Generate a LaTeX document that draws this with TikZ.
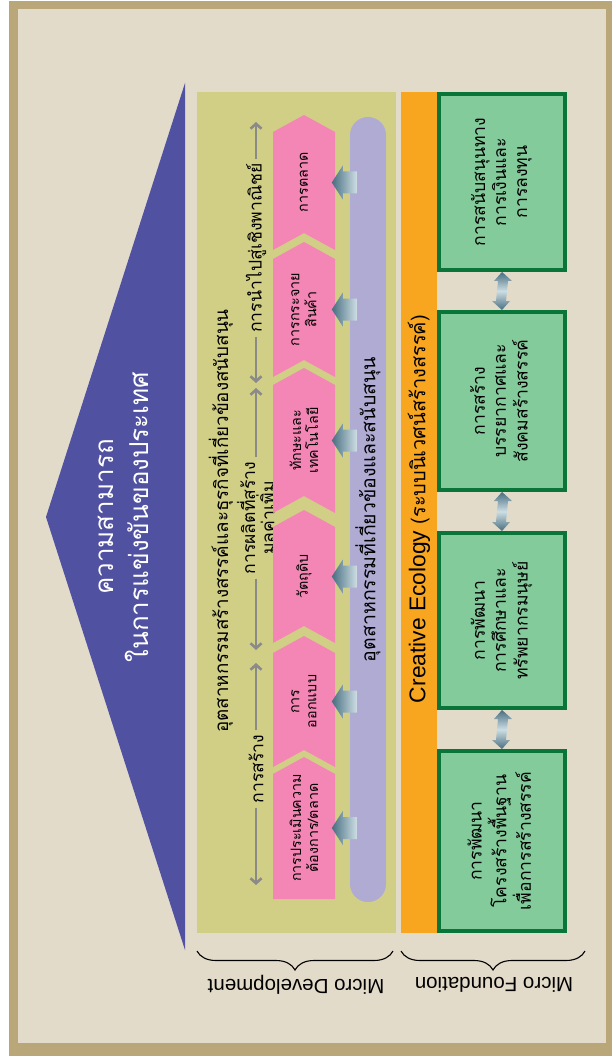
\documentclass[tikz,border=0pt]{standalone}
\usepackage{fontspec}
\setmainfont{Liberation Sans}
\newfontfamily\thaifont[Script=Thai]{Loma}
\usetikzlibrary{arrows.meta,calc,decorations.pathreplacing}

\definecolor{bgbeige}{RGB}{226,219,201}
\definecolor{frametan}{RGB}{185,167,121}
\definecolor{pyramid}{RGB}{81,81,161}
\definecolor{panel}{RGB}{209,207,134}
\definecolor{chevpink}{RGB}{243,134,180}
\definecolor{lavender}{RGB}{175,171,211}
\definecolor{ecoorange}{RGB}{248,166,31}
\definecolor{boxgreen}{RGB}{132,203,155}
\definecolor{boxborder}{RGB}{10,117,56}
\definecolor{flowgray}{RGB}{138,138,138}
\definecolor{arrowdark}{RGB}{72,110,128}
\definecolor{arrowlight}{RGB}{205,222,228}

\newcommand{\upright}[1]{\rotatebox{90}{\begin{tabular}{@{}c@{}}#1\end{tabular}}}

\begin{document}
\begin{tikzpicture}[x=1pt,y=-1pt,
    thaisz/.style 2 args={font=\thaifont\fontsize{#1}{#2}\selectfont},
    upright/.style={rotate=90, align=center, inner sep=0pt},
    flow/.style={flowgray, line width=2.6pt, -{Straight Barb[length=5pt,width=11pt]}, shorten <=4pt},
    greenbox/.style={draw=boxborder, line width=4pt, fill=boxgreen, minimum width=126pt,
        minimum height=176pt, inner sep=0pt, thaisz={17.6}{21}},
    pipe/.style={upright, fill=lavender, rounded corners=18pt, minimum width=785pt,
        minimum height=36pt, thaisz={19.5}{20}},
    feed/.style={left color=arrowdark, right color=arrowlight},
    gapshade/.style={top color=arrowdark, bottom color=arrowdark, middle color=arrowlight}]
    \useasboundingbox (0,0) rectangle (612,1056);

    % Frame
    \fill[white] (0,0) rectangle (612,1056);
    \fill[frametan] (9,1) rectangle (612,1056);
    \fill[bgbeige] (18,9) rectangle (606,1043);

    % Pyramid roof
    \fill[pyramid] (185,83) -- (46,517) -- (185,950) -- cycle;
    \node[upright, text=white, thaisz={26}{35}] (goal) at (123,517)
        {ความสามารถ\\ในการแข่งขันของประเทศ};

    % Micro development panel
    \fill[panel] (197,92) rectangle (396,933);
    \node[upright, thaisz={18.8}{20}] (cluster) at (221,521)
        {อุตสาหกรรมสร้างสรรค์และธุรกิจที่เกี่ยวข้องสนับสนุน};

    % Value chain stages
    \node[upright, thaisz={17.6}{18}] (tComm) at (256,248) {การนำไปสู่เชิงพาณิชย์};
    \node[upright, thaisz={17.6}{18}] (tProd) at (258,518) {การผลิตที่สร้าง\\มูลค่าเพิ่ม};
    \node[upright, thaisz={17.6}{18}] (tMake) at (256,769) {การสร้าง};
    \coordinate (cA1) at (256,122);
    \coordinate (cA2) at (256,383);
    \coordinate (cB1) at (256,388);
    \coordinate (cB2) at (256,650);
    \coordinate (cC1) at (256,663);
    \coordinate (cC2) at (256,885);
    \draw[flow] (tComm.east) -- (cA1);
    \draw[flow] (tComm.west) -- (cA2);
    \draw[flow] (tProd.east -| cB1) -- (cB1);
    \draw[flow] (tProd.west -| cB2) -- (cB2);
    \draw[flow] (tMake.east) -- (cC1);
    \draw[flow] (tMake.west) -- (cC2);

    % Chevrons
    \foreach \t/\b/\n/\txt [count=\i] in {115/250/17/{การตลาด},
        242/377/17/{การกระจาย\\สินค้า}, 368/513/17/{ทักษะและ\\เทคโนโลยี},
        510/643/17/{วัตถุดิบ}, 636/767/17/{การ\\ออกแบบ},
        757/899/0/{การประเมินความ\\ต้องการ/ตลาด}} {
        \fill[chevpink] (304,\t) -- (335,\t+17) -- (335,\b) -- (304,\b-\n)
            -- (273,\b) -- (273,\t+17) -- cycle;
        \pgfmathsetmacro{\ym}{(\t+\b)/2}
        \node[upright, thaisz={14.3}{17}] (ch\i) at (304,\ym) {\txt};
    }

    % Supporting industries
    \node[pipe] (sup) at (368,509.5) {อุตสาหกรรมที่เกี่ยวข้องและสนับสนุน};
    \foreach \i in {1,...,6}
        \shade[feed] ($(ch\i -| sup.north)+(7,-11)$) -- ++(-14,0) -- ++(0,-6)
            -- ++(-11,17) -- ++(11,17) -- ++(0,-6) -- ++(14,0) -- cycle;

    % Creative ecology
    \fill[ecoorange] (401,92) rectangle (437,933);
    \node[upright] (eco) at (419,509)
        {\fontsize{22.8}{24}\selectfont Creative Ecology
         \thaifont\fontsize{20}{22}\selectfont(ระบบนิเวศน์สร้างสรรค์)};

    % Micro foundation boxes
    \node[greenbox] (fin) at (502,182) {\upright{การสนับสนุนทาง\\การเงินและ\\การลงทุน}};
    \node[greenbox, minimum height=178pt] (atm) at (502,401)
        {\upright{การสร้าง\\บรรยากาศและ\\สังคมสร้างสรรค์}};
    \node[greenbox, minimum height=175pt] (edu) at (502,620.5)
        {\upright{การพัฒนา\\การศึกษาและ\\ทรัพยากรมนุษย์}};
    \node[greenbox, minimum height=180pt] (infra) at (502,841)
        {\upright{การพัฒนา\\โครงสร้างพื้นฐาน\\เพื่อการสร้างสรรค์}};
    \foreach \a/\b in {fin/atm, atm/edu, edu/infra}
        \shade[gapshade] (\a.south) -- ++(10,9) -- ++(-4,0) -- ($(\b.north)+(4,-9)$)
            -- ++(4,0) -- (\b.north) -- ++(-10,-9) -- ++(4,0)
            -- ($(\a.south)+(-4,9)$) -- ++(-4,0) -- cycle;

    % Braces
    \coordinate (devR) at (393,951);
    \coordinate (devL) at (197,951);
    \coordinate (fndR) at (585,951);
    \coordinate (fndL) at (401,951);
    \draw[decorate, decoration={brace, amplitude=19pt}, line width=1.1pt] (devR) -- (devL);
    \draw[decorate, decoration={brace, amplitude=19pt}, line width=1.1pt] (fndR) -- (fndL);
    \node[rotate=180, font=\fontsize{20.5}{22}\selectfont] (mdev) at (296,985) {Micro Development};
    \node[rotate=180, font=\fontsize{20.5}{22}\selectfont] (mfnd) at (494,985) {Micro Foundation};
\end{tikzpicture}
\end{document}
